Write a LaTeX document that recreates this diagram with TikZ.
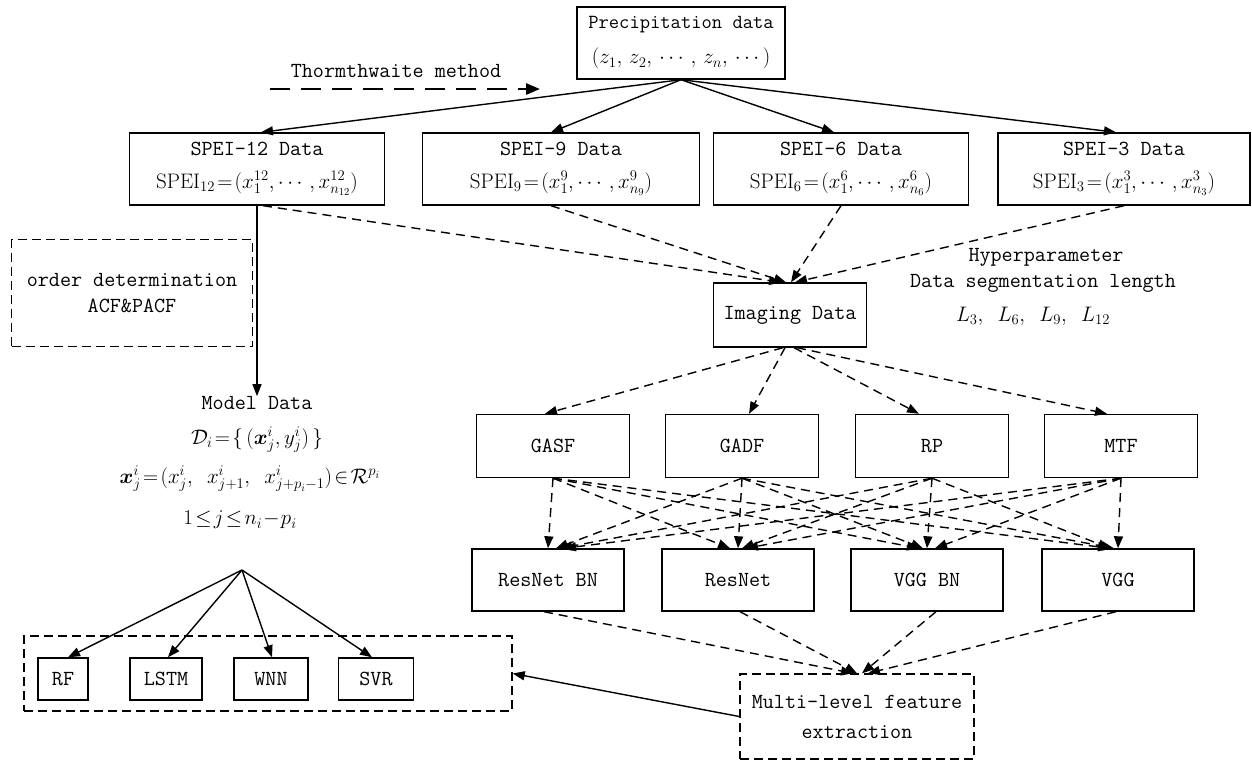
\RequirePackage{fix-cm}
\documentclass[tikz,border=0pt]{standalone}
\usepackage{amsmath}
\usepackage{fontspec}
\usetikzlibrary{arrows.meta}
\newcommand{\mfs}{\fontsize{21}{24}\selectfont}
\begin{document}
\begin{tikzpicture}[x=1pt,y=1pt,yscale=-1,xscale=1,
  box/.style={draw,line width=1.4pt,align=center,inner sep=0pt,font=\fontsize{21.5}{33}\selectfont\ttfamily},
  dbox/.style={box,dash pattern=on 9pt off 5pt},
  lbl/.style={align=center,inner sep=0pt,font=\fontsize{21.5}{26}\selectfont\ttfamily},
  arr/.style={-{Triangle[length=12pt,width=9pt]},line width=1.4pt},
  darr/.style={arr,dash pattern=on 9pt off 6pt},
  ]
\useasboundingbox (0,0) rectangle (1252,761);
\node [box,minimum width=208pt,minimum height=72pt,font=\fontsize{20}{35}\selectfont\ttfamily] (prec) at (681,43) {Precipitation data\\{\mfs$(z_1,\,z_2,\,\cdots,\,z_n,\,\cdots)$}};
\node [lbl] (thorn) at (396,71) {Thormthwaite method};
\coordinate (tha) at (270,89);
\coordinate (thb) at (540,89);
\node [box,minimum width=255pt,minimum height=72pt] (spei12) at (257,169) {SPEI-12 Data\\{\mfs$\mathrm{SPEI}_{12}\!=\!(x_1^{12},\cdots,x_{n_{12}}^{12})$}};
\node [box,minimum width=277pt,minimum height=72pt] (spei9) at (561,169) {SPEI-9 Data\\{\mfs$\mathrm{SPEI}_{9}\!=\!(x_1^{9},\cdots,x_{n_{9}}^{9})$}};
\node [box,minimum width=255pt,minimum height=72pt] (spei6) at (841,169) {SPEI-6 Data\\{\mfs$\mathrm{SPEI}_{6}\!=\!(x_1^{6},\cdots,x_{n_{6}}^{6})$}};
\node [box,minimum width=252pt,minimum height=72pt] (spei3) at (1124,169) {SPEI-3 Data\\{\mfs$\mathrm{SPEI}_{3}\!=\!(x_1^{3},\cdots,x_{n_{3}}^{3})$}};
\node [dbox,minimum width=241pt,minimum height=107pt,font=\fontsize{21.5}{26}\selectfont\ttfamily] (order) at (132,293) {order determination\\ACF\&PACF};
\node [lbl] (model) at (257,403) {Model Data};
\node [lbl] (dset) at (257,440) {\mfs$\mathcal{D}_i\!=\!\{\,(\boldsymbol{x}_j^i,y_j^i)\,\}$};
\node [lbl] (xvec) at (250,479) {\mfs$\boldsymbol{x}_j^i\!=\!(x_j^i,\ x_{j+1}^i,\ x_{j+p_i-1}^i)\!\in\!\mathcal{R}^{p_i}$};
\node [lbl] (jrange) at (240,520) {\mfs$1\!\le\! j\!\le\! n_i\!-\!p_i$};
\coordinate (fan) at (242,570);
\node [dbox,minimum width=488pt,minimum height=75pt] (mdlgrp) at (268,673.5) {};
\node [box,minimum width=50pt,minimum height=42pt] (rf) at (63,679) {RF};
\node [box,minimum width=72pt,minimum height=42pt] (lstm) at (166,679) {LSTM};
\node [box,minimum width=74pt,minimum height=42pt] (wnn) at (271,679) {WNN};
\node [box,minimum width=75pt,minimum height=42pt] (svr) at (376,679) {SVR};
\node [box,minimum width=153pt,minimum height=64pt] (img) at (790,315) {Imaging Data};
\node [lbl] (hyp1) at (1046,257) {Hyperparameter};
\node [lbl] (hyp2) at (1043,283) {Data segmentation length};
\node [lbl] (hyp3) at (1033,316) {\mfs$L_3,\ L_6,\ L_9,\ L_{12}$};
\node [box,minimum width=153pt,minimum height=63pt] (gasf) at (553,446) {GASF};
\node [box,minimum width=153pt,minimum height=63pt] (gadf) at (742,446) {GADF};
\node [box,minimum width=153pt,minimum height=63pt] (rp) at (932,446) {RP};
\node [box,minimum width=153pt,minimum height=63pt] (mtf) at (1121,446) {MTF};
\node [box,minimum width=152pt,minimum height=62pt] (resbn) at (548,580) {ResNet BN};
\node [box,minimum width=152pt,minimum height=62pt] (res) at (738,580) {ResNet};
\node [box,minimum width=152pt,minimum height=62pt] (vggbn) at (927,580) {VGG BN};
\node [box,minimum width=152pt,minimum height=62pt] (vgg) at (1118,580) {VGG};
\node [dbox,minimum width=234pt,minimum height=85pt,font=\fontsize{21.5}{30}\selectfont\ttfamily] (feat) at (857,716.5) {Multi-level feature\\extraction};
\draw [arr,line width=2.6pt,dash pattern=on 20pt off 11pt,-{Triangle[length=14pt,width=11pt]}] (tha) -- (thb);
\draw [arr] (prec.south) -- ([xshift=4pt]spei12.north);
\draw [arr] (prec.south) -- ([xshift=-10pt]spei9.north);
\draw [arr] (prec.south) -- ([xshift=-7pt]spei6.north);
\draw [arr] (prec.south) -- ([xshift=-8pt]spei3.north);
\draw [arr] (spei12.south) -- (model.north);
\draw [darr] ([xshift=6pt]spei12.south) -- ([xshift=-9pt]img.north);
\draw [darr] ([xshift=-10pt]spei9.south) -- ([xshift=-4pt]img.north);
\draw [darr] (spei6.south) -- ([xshift=1pt]img.north);
\draw [darr] (spei3.south) -- ([xshift=5pt]img.north);
\draw [darr] ([xshift=-7pt]img.south) -- ([xshift=-8pt]gasf.north);
\draw [darr] ([xshift=-5pt]img.south) -- ([xshift=7pt]gadf.north);
\draw [darr] ([xshift=4pt]img.south) -- ([xshift=-13pt]rp.north);
\draw [darr] ([xshift=7pt]img.south) -- ([xshift=-14pt]mtf.north);
\draw [darr] (gasf.south) -- (resbn.north);
\draw [darr] (gasf.south) -- ([xshift=-8pt]res.north);
\draw [darr] (gasf.south) -- ([xshift=-8pt]vggbn.north);
\draw [darr] (gasf.south) -- ([xshift=-8pt]vgg.north);
\draw [darr] (gadf.south) -- ([xshift=8pt]resbn.north);
\draw [darr] (gadf.south) -- (res.north);
\draw [darr] (gadf.south) -- ([xshift=-4pt]vggbn.north);
\draw [darr] (gadf.south) -- ([xshift=-4pt]vgg.north);
\draw [darr] (rp.south) -- ([xshift=12pt]resbn.north);
\draw [darr] (rp.south) -- ([xshift=4pt]res.north);
\draw [darr] (rp.south) -- (vggbn.north);
\draw [darr] (rp.south) -- ([xshift=-8pt]vgg.north);
\draw [darr] (mtf.south) -- ([xshift=16pt]resbn.north);
\draw [darr] (mtf.south) -- ([xshift=8pt]res.north);
\draw [darr] (mtf.south) -- ([xshift=8pt]vggbn.north);
\draw [darr] (mtf.south) -- (vgg.north);
\draw [darr] ([xshift=-4pt]resbn.south) -- ([xshift=-4pt]feat.north);
\draw [darr] ([xshift=2pt]res.south) -- (feat.north);
\draw [darr] ([xshift=9pt]vggbn.south) -- ([xshift=5pt]feat.north);
\draw [darr] ([xshift=-2pt]vgg.south) -- ([xshift=11pt]feat.north);
\draw [arr] (feat.west) -- (mdlgrp.east);
\draw [arr] (fan) -- ([xshift=5pt]rf.north);
\draw [arr] (fan) -- ([xshift=2pt]lstm.north);
\draw [arr] (fan) -- ([xshift=1pt]wnn.north);
\draw [arr] (fan) -- ([xshift=-4pt]svr.north);
\end{tikzpicture}
\end{document}
